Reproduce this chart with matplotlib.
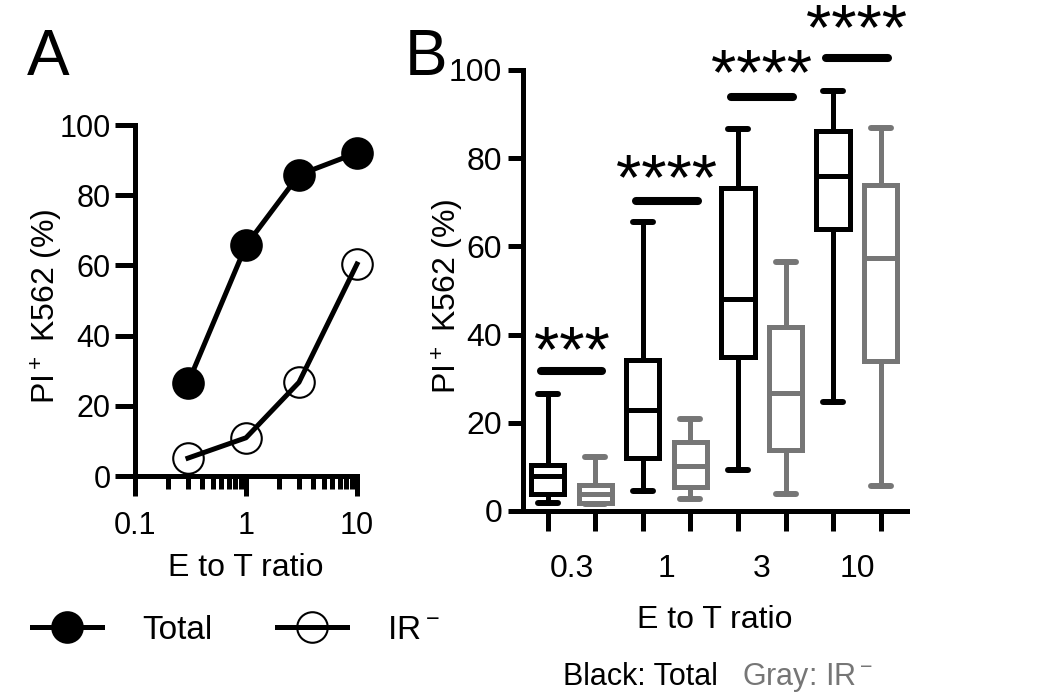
import matplotlib
matplotlib.use("Agg")
import matplotlib.pyplot as plt
from matplotlib.lines import Line2D
from matplotlib.ticker import LogLocator, NullFormatter

plt.rcParams["font.family"] = ["Liberation Sans", "DejaVu Sans"]
plt.rcParams["mathtext.fontset"] = "custom"
plt.rcParams["mathtext.rm"] = "Liberation Sans"

# Panel A: mean killing vs E:T ratio
ratios = [0.3, 1, 3, 10]
total_pct = [26.5, 65.7, 85.8, 92.1]
ir_neg_pct = [5.1, 10.9, 26.7, 60.4]

# Panel B: box plot summaries (black = Total, gray = IR-)
groups = ["0.3", "1", "3", "10"]
total_whislo = [1.9, 4.5, 9.3, 24.8]
total_q1 = [3.8, 11.9, 34.8, 63.9]
total_med = [8.0, 22.9, 48.1, 76.0]
total_q3 = [10.5, 34.2, 73.3, 86.2]
total_whishi = [26.5, 65.6, 86.6, 95.3]
ir_whislo = [1.5, 2.7, 3.9, 5.7]
ir_q1 = [1.8, 5.5, 13.8, 34.0]
ir_med = [3.8, 10.2, 26.8, 57.3]
ir_q3 = [5.9, 15.7, 41.6, 73.9]
ir_whishi = [12.3, 20.8, 56.5, 86.8]
sig_labels = ["***", "****", "****", "****"]
sig_bar_y = [31.7, 70.3, 93.8, 102.8]
sig_star_y = [36.1, 75.1, 99.0, 109.1]

GRAY = "#767676"
LW = 3.6
YLABEL = "PI$\\mathregular{^+}$ K562 (%)"

fig = plt.figure(figsize=(10.5, 6.99), dpi=100)

# ---------------- Panel A ----------------
axA = fig.add_axes([0.1286, 0.319, 0.2114, 0.5021])
axA.plot(ratios, total_pct, color="black", lw=LW, marker="o", ms=22,
         mfc="black", mec="black", mew=1.5, clip_on=False, zorder=3)
axA.plot(ratios, ir_neg_pct, color="black", lw=LW, marker="o", ms=22,
         mfc="none", mec="black", mew=1.5, clip_on=False, zorder=3)
axA.set_xscale("log")
axA.set_xlim(0.1, 10)
axA.set_ylim(0, 100)
axA.set_xticks([0.1, 1, 10], labels=["0.1", "1", "10"])
axA.xaxis.set_minor_locator(LogLocator(base=10, subs=range(2, 10)))
axA.xaxis.set_minor_formatter(NullFormatter())
axA.set_yticks(range(0, 101, 20))
axA.tick_params(axis="both", which="major", length=14.4, width=LW, labelsize=22)
axA.tick_params(axis="x", which="major", pad=11)
axA.tick_params(axis="y", which="major", pad=3)
axA.tick_params(axis="x", which="minor", length=9.4, width=LW)
for s in ["top", "right"]:
    axA.spines[s].set_visible(False)
for s in ["left", "bottom"]:
    axA.spines[s].set_linewidth(LW)
axA.set_xlabel("E to T ratio", fontsize=23)
axA.xaxis.label.set_va("center")
axA.xaxis.set_label_coords(0.5, -0.262)
axA.set_ylabel(YLABEL, fontsize=23)
axA.yaxis.label.set_va("center")
axA.yaxis.set_label_coords(-0.396, 0.484)

handles = [
    Line2D([], [], color="black", lw=LW, marker="o", ms=22, mfc="black", mec="black", mew=1.5),
    Line2D([], [], color="black", lw=LW, marker="o", ms=22, mfc="none", mec="black", mew=1.5),
]
fig.legend(handles, ["Total", "IR$\\mathregular{^-}$"], ncol=2, frameon=False,
           loc="center left", bbox_to_anchor=(0.0305, 0.0987), fontsize=24,
           handlelength=2.1, handletextpad=1.2, columnspacing=1.95,
           borderpad=0, borderaxespad=0, numpoints=1)

# ---------------- Panel B ----------------
axB = fig.add_axes([0.498, 0.269, 0.3657, 0.631])
pos_total = [1, 3, 5, 7]
pos_ir = [2, 4, 6, 8]
centers = [1.5, 3.5, 5.5, 7.5]

stats_total = [dict(whislo=a, q1=b, med=c, q3=d, whishi=e, label=g)
               for a, b, c, d, e, g in zip(total_whislo, total_q1, total_med,
                                           total_q3, total_whishi, groups)]
stats_ir = [dict(whislo=a, q1=b, med=c, q3=d, whishi=e, label=g)
            for a, b, c, d, e, g in zip(ir_whislo, ir_q1, ir_med,
                                        ir_q3, ir_whishi, groups)]

for stats, pos, col in [(stats_total, pos_total, "black"), (stats_ir, pos_ir, GRAY)]:
    axB.bxp(stats, positions=pos, widths=0.7, capwidths=0.42, showfliers=False,
            manage_ticks=False,
            boxprops=dict(color=col, lw=LW, solid_joinstyle="miter"),
            whiskerprops=dict(color=col, lw=LW),
            capprops=dict(color=col, lw=4.3, solid_capstyle="round"),
            medianprops=dict(color=col, lw=LW))

for c, lab, yb, ys in zip(centers, sig_labels, sig_bar_y, sig_star_y):
    axB.plot([c - 0.65, c + 0.65], [yb, yb], color="black", lw=5.8,
             solid_capstyle="round", clip_on=False)
    axB.annotate(lab, (c, ys), xytext=(0, -14), textcoords="offset points",
                 ha="center", va="baseline", fontsize=47,
                 annotation_clip=False)

axB.set_xlim(0.48, 8.55)
axB.set_ylim(0, 100)
axB.set_xticks(pos_total + pos_ir, labels=[""] * 8)
axB.set_xticks(centers, labels=groups, minor=True)
axB.set_yticks(range(0, 101, 20))
axB.tick_params(axis="x", which="major", length=14.4, width=LW)
axB.tick_params(axis="x", which="minor", length=0, pad=31, labelsize=23)
axB.tick_params(axis="y", which="major", length=10.8, width=LW, labelsize=23, pad=4)
for s in ["top", "right"]:
    axB.spines[s].set_visible(False)
for s in ["left", "bottom"]:
    axB.spines[s].set_linewidth(LW)
axB.set_xlabel("E to T ratio", fontsize=23)
axB.xaxis.label.set_va("center")
axB.xaxis.set_label_coords(0.5, -0.247)
axB.set_ylabel(YLABEL, fontsize=23)
axB.yaxis.label.set_va("center")
axB.yaxis.set_label_coords(-0.195, 0.4875)

fig.text(563 / 1050, 1 - 677 / 699, "Black: Total", fontsize=22, va="center", ha="left")
fig.text(742 / 1050, 1 - 677 / 699, "Gray: IR$\\mathregular{^-}$", fontsize=22,
         va="center", ha="left", color=GRAY)

fig.text(27 / 1050, 1 - 75 / 699, "A", fontsize=46, va="baseline", ha="left")
fig.text(405 / 1050, 1 - 75 / 699, "B", fontsize=46, va="baseline", ha="left")

fig.savefig("out.png", dpi=100)
